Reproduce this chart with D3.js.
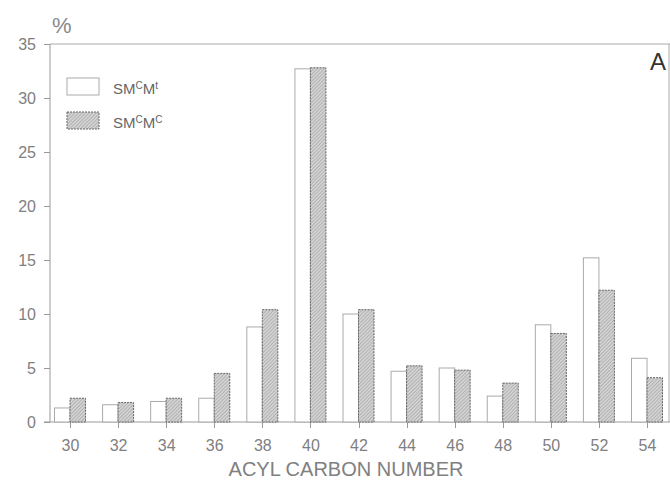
<!DOCTYPE html>
<meta charset="utf-8">
<style>
  body { margin: 0; background: #fff; }
  svg { font-family: "Liberation Sans", Arial, sans-serif; }
  .axis text { fill: #808080; font-size: 16px; }
  .axis line, .axis path { stroke: #999; shape-rendering: crispEdges; }
</style>
<body>
<div id="chart"></div>
<script src="https://d3js.org/d3.v7.min.js"></script>
<script>
  // carbon numbers and the two series (percent)
  var carbons = [30, 32, 34, 36, 38, 40, 42, 44, 46, 48, 50, 52, 54];
  var smcmt = [1.3, 1.6, 1.9, 2.2, 8.8, 32.7, 10.0, 4.7, 5.0, 2.4, 9.0, 15.2, 5.9];
  var smcmc = [2.2, 1.8, 2.2, 4.5, 10.4, 32.8, 10.4, 5.2, 4.8, 3.6, 8.2, 12.2, 4.1];
  var yTicks = [0, 5, 10, 15, 20, 25, 30, 35];

  var W = 670, H = 482;
  var mLeft = 50, mRight = 669, mTop = 44, mBottom = 422;

  var svg = d3.select("#chart").append("svg")
      .attr("width", W).attr("height", H);

  var defs = svg.append("defs");
  var pat = defs.append("pattern")
      .attr("id", "hatch")
      .attr("patternUnits", "userSpaceOnUse")
      .attr("width", 2.5).attr("height", 2.5)
      .attr("patternTransform", "rotate(45)");
  pat.append("rect").attr("width", 2.5).attr("height", 2.5).attr("fill", "#d2d2d2");
  pat.append("line").attr("x1", 0).attr("y1", 0).attr("x2", 0).attr("y2", 2.5)
      .attr("stroke", "#999").attr("stroke-width", 1);

  var x = d3.scaleLinear().domain([30, 54]).range([70, 647]);
  var y = d3.scaleLinear().domain([0, 35]).range([mBottom, mTop]);
  var bw = 15.5;

  // frame: top and right lines
  svg.append("line").attr("x1", mLeft).attr("x2", W).attr("y1", mTop).attr("y2", mTop)
      .attr("stroke", "#aaa");
  svg.append("line").attr("x1", mRight).attr("x2", mRight).attr("y1", mTop).attr("y2", mBottom)
      .attr("stroke", "#aaa");

  // y axis
  var yAxis = svg.append("g").attr("class", "axis")
      .attr("transform", "translate(" + mLeft + ",0)")
      .call(d3.axisLeft(y).tickValues(yTicks).tickSize(6).tickPadding(8));
  yAxis.select(".domain").remove();
  svg.append("line").attr("x1", mLeft).attr("x2", mLeft).attr("y1", mTop).attr("y2", mBottom)
      .attr("stroke", "#999");

  // x axis
  var xAxis = svg.append("g").attr("class", "axis")
      .attr("transform", "translate(0," + mBottom + ")")
      .call(d3.axisBottom(x).tickValues(carbons).tickSize(6).tickPadding(12));
  xAxis.select(".domain").remove();
  svg.append("line").attr("x1", mLeft - 6).attr("x2", W).attr("y1", mBottom).attr("y2", mBottom)
      .attr("stroke", "#999");

  // bars
  var bars = svg.append("g");
  bars.selectAll(".white").data(carbons).enter().append("rect")
      .attr("x", function(d) { return x(d) - bw; })
      .attr("y", function(d, i) { return y(smcmt[i]); })
      .attr("width", bw)
      .attr("height", function(d, i) { return mBottom - y(smcmt[i]); })
      .attr("fill", "#fff").attr("stroke", "#aaa").attr("stroke-width", 1);
  bars.selectAll(".hatch").data(carbons).enter().append("rect")
      .attr("x", function(d) { return x(d); })
      .attr("y", function(d, i) { return y(smcmc[i]); })
      .attr("width", bw)
      .attr("height", function(d, i) { return mBottom - y(smcmc[i]); })
      .attr("fill", "url(#hatch)").attr("stroke", "#666").attr("stroke-width", 1)
      .attr("stroke-dasharray", "2,1");

  // legend
  var lg = svg.append("g");
  lg.append("rect").attr("x", 67).attr("y", 78).attr("width", 32).attr("height", 17)
      .attr("fill", "#fff").attr("stroke", "#aaa");
  lg.append("rect").attr("x", 67).attr("y", 112).attr("width", 32).attr("height", 17)
      .attr("fill", "url(#hatch)").attr("stroke", "#666").attr("stroke-dasharray", "2,1");
  var t1 = lg.append("text").attr("x", 113).attr("y", 94).attr("fill", "#666").attr("font-size", 15);
  t1.append("tspan").text("SM");
  t1.append("tspan").attr("dy", -5).attr("font-size", 10).text("C");
  t1.append("tspan").attr("dy", 5).text("M");
  t1.append("tspan").attr("dy", -5).attr("font-size", 10).text("t");
  var t2 = lg.append("text").attr("x", 113).attr("y", 128).attr("fill", "#666").attr("font-size", 15);
  t2.append("tspan").text("SM");
  t2.append("tspan").attr("dy", -5).attr("font-size", 10).text("C");
  t2.append("tspan").attr("dy", 5).text("M");
  t2.append("tspan").attr("dy", -5).attr("font-size", 10).text("C");

  // labels
  svg.append("text").attr("x", 52).attr("y", 33).attr("fill", "#888")
      .attr("font-size", 22).text("%");
  svg.append("text").attr("x", 666).attr("y", 70).attr("text-anchor", "end")
      .attr("fill", "#333").attr("font-size", 24).text("A");
  svg.append("text").attr("x", 346).attr("y", 476).attr("text-anchor", "middle")
      .attr("fill", "#808080").attr("font-size", 20).text("ACYL CARBON NUMBER");
</script>
</body>
